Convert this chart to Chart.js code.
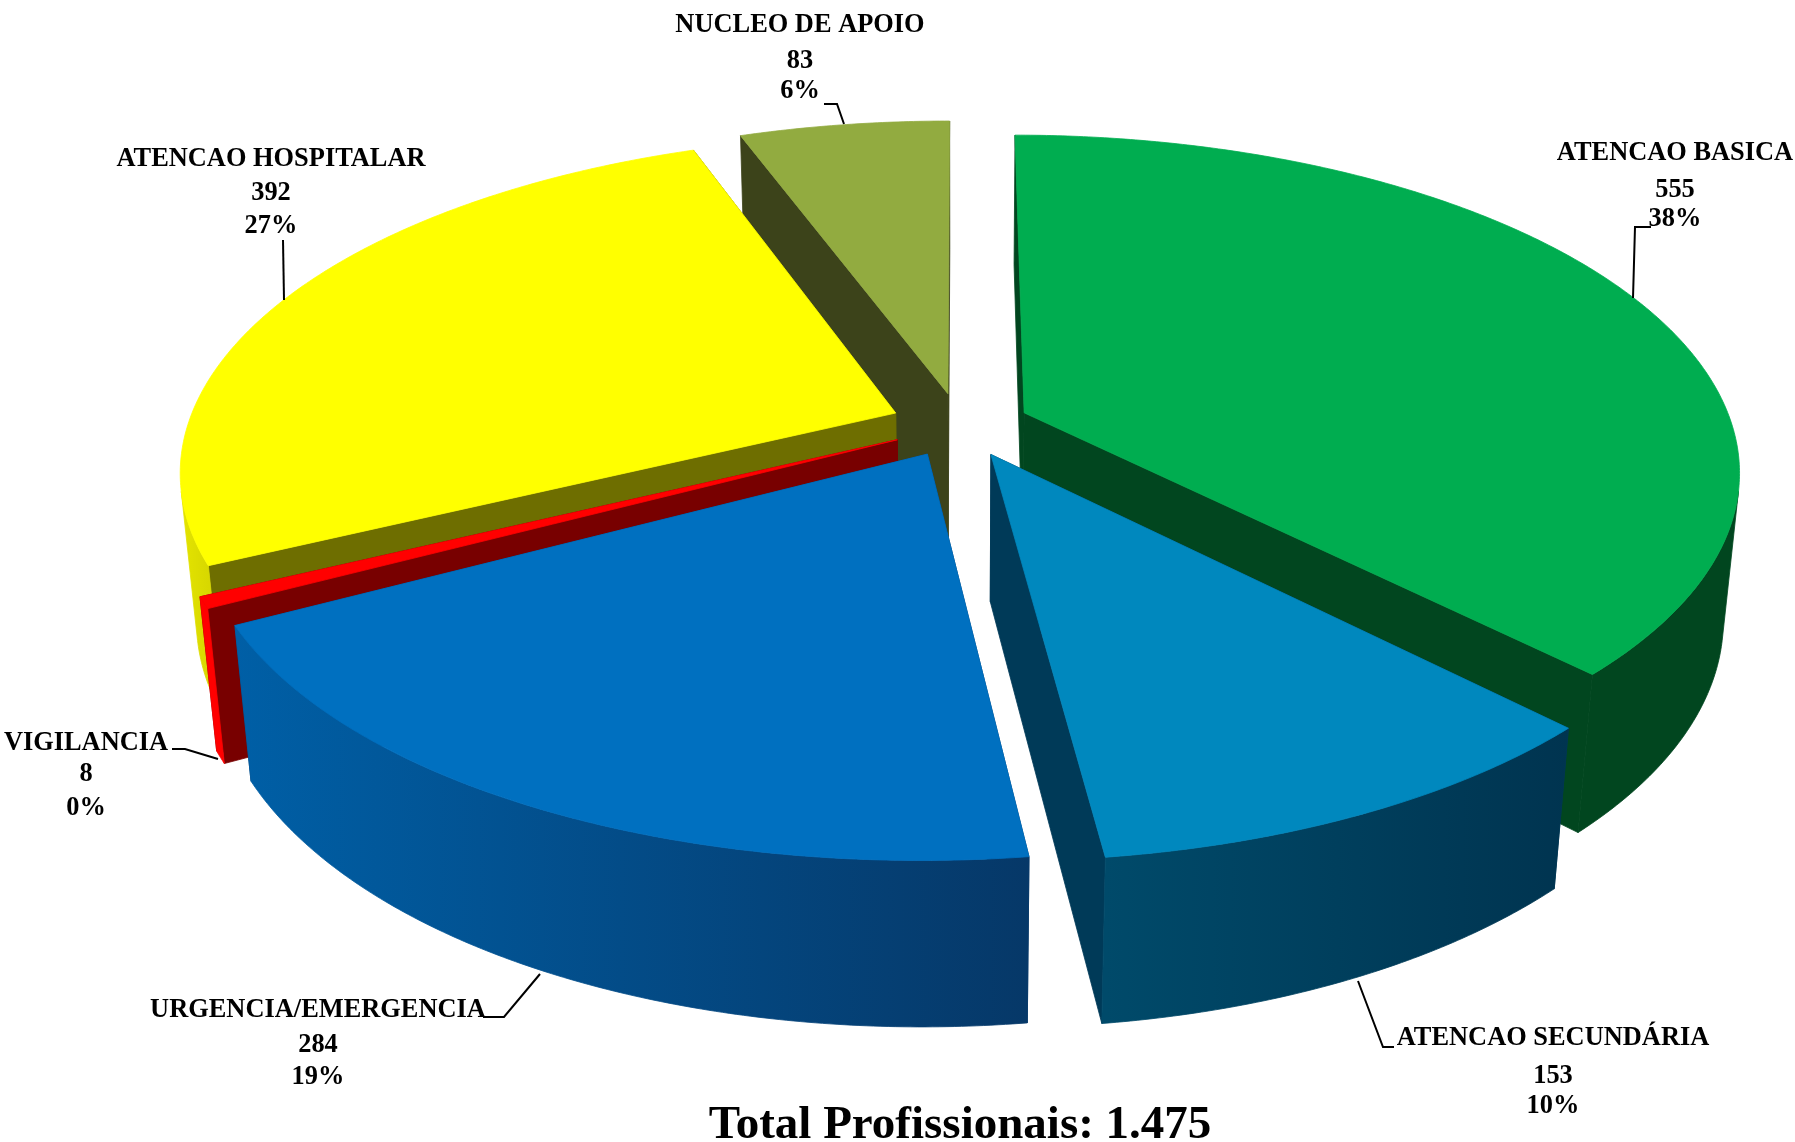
<!DOCTYPE html>
<html>
<head>
<meta charset="utf-8">
<style>html,body{margin:0;padding:0;background:#fff}canvas{display:block}</style>
<script src="https://cdn.jsdelivr.net/npm/chart.js@4"></script>
</head>
<body>
<canvas id="c" width="1795" height="1142" style="width:1795px;height:1142px"></canvas>
<script>
// ---- data ----
const categories = ['ATENCAO BASICA','ATENCAO SECUNDÁRIA','URGENCIA/EMERGENCIA','VIGILANCIA','ATENCAO HOSPITALAR','NUCLEO DE APOIO'];
const values = [555,153,284,8,392,83];
const percentLabels = ['38%','10%','19%','0%','27%','6%'];
const titleText = 'Total Profissionais: 1.475';

// ---- styles ----
const topColors = ['#00ad50','#0088be','#0070c0','#ff0000','#ffff00','#92ab40'];
const cutColors = ['#01461f','#003a58','#0a3a6a','#780000','#6e6e00','#3c431a'];
const rimFrom   = ['#01461f','#004a6a','#005fa6','#ff0000','#e4e400','#92ab40'];
const rimTo     = ['#01461f','#003450','#063868','#ff0000','#d8d800','#92ab40'];
const serif = '"Liberation Serif", serif';

// ---- camera of the 3-D view ----
const camDist = 5.31, camSin = 0.463, camCos = 0.886, depth = 0.237;

// ---- label layout: text centres and leader polylines ----
const labelLayout = [
  {x:1675, y:[153,190,219], leader:[[1651,227],[1635,227],[1633,298]]},
  {x:1553, y:[1038,1076,1106], leader:[[1394,1047],[1383,1047],[1358,981]]},
  {x:318,  y:[1010,1045,1077], leader:[[483,1017],[504,1017],[540,974]]},
  {x:86,   y:[743,774,808], leader:[[172,749],[185,749],[218,759]]},
  {x:271,  y:[159,193,226], leader:[[284,300],[283,240]]},
  {x:800,  y:[25,61,91], leader:[[824,104],[837,104],[844,124]]}
];

function offsets(el){
  const off = (el.options.offset||0)/4, mid = (el.startAngle+el.endAngle)/2;
  return [Math.cos(mid)*off/el.outerRadius, Math.sin(mid)*off/el.outerRadius];
}
function projector(el){
  const R = el.outerRadius, [ox,oy] = offsets(el);
  return (a,r,z)=>{
    const wx = ox + r*Math.cos(a), wy = oy + r*Math.sin(a);
    const up = z*camCos - wy*camSin;
    const d = camDist - (wy*camCos + z*camSin);
    return [el.x + R*camDist*wx/d, el.y - R*camDist*up/d];
  };
}
function rimFacesCamera(el,a){
  const [ox,oy] = offsets(el);
  return camDist*camCos*Math.sin(a) - (1 + ox*Math.cos(a) + oy*Math.sin(a)) > 0;
}
function fillPoly(ctx,pts,color){
  ctx.beginPath();
  pts.forEach((p,i)=>i?ctx.lineTo(p[0],p[1]):ctx.moveTo(p[0],p[1]));
  ctx.closePath();
  ctx.fillStyle=color;ctx.strokeStyle=color;ctx.lineWidth=0.8;
  ctx.fill();ctx.stroke();
}
const pie3d = {
  id:'pie3d',
  beforeDatasetsDraw(chart){
    const ctx = chart.ctx, arcs = chart.getDatasetMeta(0).data;
    const order = arcs.map((el,i)=>i).sort((a,b)=>
      Math.sin((arcs[a].startAngle+arcs[a].endAngle)/2)-Math.sin((arcs[b].startAngle+arcs[b].endAngle)/2));
    ctx.save();
    ctx.lineJoin='round';
    for(const i of order){
      const el=arcs[i], P=projector(el), a0=el.startAngle, a1=el.endAngle;
      const steps=Math.max(2,Math.ceil((a1-a0)/(Math.PI/360)));
      // cut faces
      [a0,a1].forEach(a=>fillPoly(ctx,[P(a,0,0),P(a,1,0),P(a,1,-depth),P(a,0,-depth)],cutColors[i]));
      // outer wall, shaded from left to right on screen
      const upper=[],lower=[];
      for(let k=0;k<=steps;k++){
        const a=a0+(a1-a0)*k/steps;
        if(!rimFacesCamera(el,a)) continue;
        upper.push(P(a,1,0));lower.push(P(a,1,-depth));
      }
      if(upper.length>1){
        const xs=upper.map(p=>p[0]);
        const g=ctx.createLinearGradient(Math.min(...xs),0,Math.max(...xs),0);
        g.addColorStop(0,rimFrom[i]);g.addColorStop(1,rimTo[i]);
        fillPoly(ctx,upper.concat(lower.reverse()),g);
      }
      // top face
      const top=[P(a0,0,0)];
      for(let k=0;k<=steps;k++)top.push(P(a0+(a1-a0)*k/steps,1,0));
      fillPoly(ctx,top,topColors[i]);
    }
    ctx.restore();
    return false;
  },
  afterDraw(chart){
    const ctx=chart.ctx;
    ctx.save();
    ctx.strokeStyle='#000';ctx.lineWidth=2;ctx.fillStyle='#000';
    ctx.textAlign='center';ctx.textBaseline='middle';
    ctx.font='bold 26.4px '+serif;
    labelLayout.forEach((l,i)=>{
      [categories[i],String(values[i]),percentLabels[i]].forEach((t,j)=>ctx.fillText(t,l.x,l.y[j]));
      ctx.beginPath();
      l.leader.forEach((p,k)=>k?ctx.lineTo(p[0],p[1]):ctx.moveTo(p[0],p[1]));
      ctx.stroke();
    });
    ctx.restore();
  }
};
new Chart(document.getElementById('c'),{
  type:'pie',
  data:{labels:categories,datasets:[{data:values,backgroundColor:topColors,borderWidth:0,offset:279}]},
  options:{
    responsive:false,animation:false,radius:708,
    layout:{padding:{left:125,right:0,top:0,bottom:0}},
    events:[],
    plugins:{
      legend:{display:false},tooltip:{enabled:false},
      title:{display:true,text:titleText,position:'bottom',color:'#000',
        font:{family:serif,size:47,weight:'bold',lineHeight:1.2},
        padding:{top:248,bottom:-12.4}}
    }
  },
  plugins:[pie3d]
});
</script>
</body>
</html>
